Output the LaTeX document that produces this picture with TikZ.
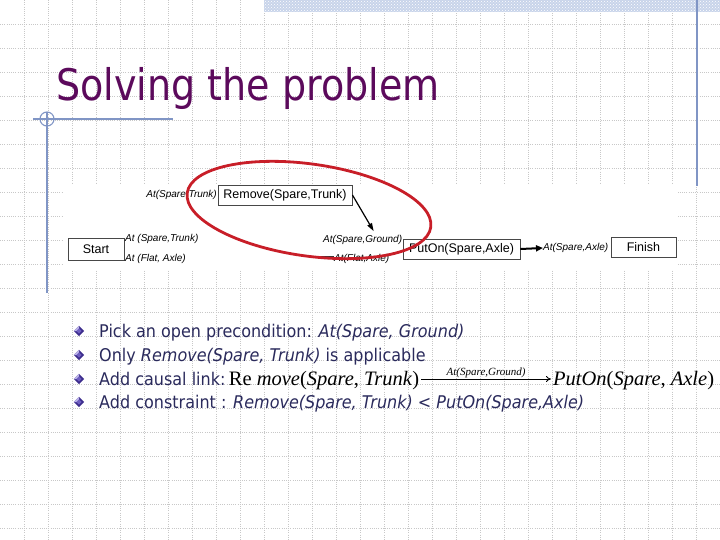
\documentclass[tikz,border=0pt]{standalone}
\usepackage{fontspec}
\setmainfont{Liberation Sans}
\newfontfamily\titlefont[FakeStretch=0.875]{DejaVu Sans}
\newfontfamily\bodyfont[FakeStretch=0.915,ItalicFont={DejaVu Sans Oblique}]{DejaVu Sans}
\newfontfamily\diagfont{Liberation Sans}
\newfontfamily\mathfont{Liberation Serif}
\usetikzlibrary{arrows.meta,patterns,calc}
\definecolor{titlepurple}{HTML}{5C0A5C}
\definecolor{bodyblue}{HTML}{2A2A5C}
\definecolor{lineblue}{HTML}{8095C5}
\definecolor{bandblue}{HTML}{C8D4EA}
\definecolor{gridgray}{HTML}{C8C8C8}
\definecolor{ellred}{HTML}{C81E28}
\definecolor{bulletdark}{HTML}{3C2C8C}
\definecolor{bulletmid}{HTML}{6E5EC0}
\definecolor{bulletlight}{HTML}{C0B8EC}
\tikzset{
  gridline/.style={gridgray, line width=0.6pt, dash pattern=on 1pt off 1.2pt},
  blueline/.style={lineblue, line width=1.1pt},
  box/.style={draw=black!72, line width=0.9pt, fill=white, inner sep=0pt,
    font=\diagfont\fontsize{12.5}{14}\selectfont},
  lab/.style={inner sep=0pt, font=\diagfont\itshape\fontsize{10}{12}\selectfont},
  body/.style={anchor=base west, inner sep=0pt, text=bodyblue,
    font=\bodyfont\fontsize{17.5}{20}\selectfont},
  mathtxt/.style={anchor=base west, inner sep=0pt,
    font=\mathfont\fontsize{20.5}{24}\selectfont},
  diam/.pic={
    \fill[bulletdark] (0,-5.2) -- (5.2,0) -- (0,5.2) -- (-5.2,0) -- cycle;
    \fill[bulletlight] (0,-5.2) -- (-5.2,0) -- (0,0) -- cycle;
    \fill[bulletmid] (0,-2.6) -- (2.6,0) -- (0,2.6) -- (-2.6,0) -- cycle;
  }
}
\begin{document}
\begin{tikzpicture}[x=1pt,y=-1pt]
\useasboundingbox (0,0) rectangle (720,540);
\fill[white] (0,0) rectangle (720,540);
% grid
\foreach \gx in {24,48,...,696} \draw[gridline] (\gx,0) -- (\gx,540);
\foreach \gy in {24,48,...,528} \draw[gridline] (0,\gy) -- (720,\gy);
% top band
\fill[bandblue] (264,0) rectangle (720,12);
\fill[pattern=crosshatch dots, pattern color=white] (264,0) rectangle (720,12);
% decorative lines
\draw[blueline] (697,0) -- (697,186);
\draw[blueline] (33,119) -- (173,119);
\draw[blueline] (47,112) -- (47,293);
\draw[blueline] (47,119) circle [radius=7];
% title
\node[anchor=base west, inner sep=0pt, text=titlepurple,
  font=\titlefont\fontsize{43.5}{50}\selectfont] (title) at (56,101) {Solving the problem};
% diagram area
\fill[white] (63,184) rectangle (678,270);
\node[box, minimum width=56, minimum height=22] (start) at (96,249) {Start};
\node[box, minimum width=134, minimum height=20] (rem) at (285,195) {Remove(Spare,Trunk)};
\node[box, minimum width=117, minimum height=20] (put) at (461.5,249) {PutOn(Spare,Axle)};
\node[box, minimum width=65, minimum height=20] (fin) at (643.5,247) {Finish};
\node[lab, anchor=west] (lst1) at (125,239) {At (Spare,Trunk)};
\node[lab, anchor=west] (lst2) at (125,259) {At (Flat, Axle)};
\node[lab, anchor=east] (lrt) at (217,195) {At(Spare,Trunk)};
\node[lab, anchor=west] (lsg) at (323,240) {At(Spare,Ground)};
\node[lab, anchor=west] (lfa) at (334,259) {At(Flat,Axle)};
\node[lab, anchor=west] (lsa) at (543,248) {At(Spare,Axle)};
\coordinate (fl) at (320,257);
\draw[line width=1.6pt, black!80] (fl) -- (lfa.west |- fl);
\draw[line width=1.2pt, -{Triangle[length=8pt,width=5pt]}] (rem.east) -- ($(lsg.north)+(11,-4)$);
\draw[line width=2pt, -{Triangle[length=7pt,width=6pt]}] (put.east) -- (lsa.west);
% red ellipse
\draw[ellred, line width=2.8pt, rotate around={-8:(309,210)}] (309,210) ellipse [x radius=123, y radius=46];
% bullets
\foreach \by in {331,355,379,402} \pic at (79,\by) {diam};
\node[body] (b1) at (99,337) {Pick an open precondition: \textit{At(Spare, Ground)}};
\node[body] (b2) at (99,361) {Only \textit{Remove(Spare, Trunk)} is applicable};
\node[body] (b3) at (99,385) {Add causal link:};
\node[mathtxt] (m1) at ([xshift=3pt]b3.base east) {Re \textit{move}(\textit{Spare}, \textit{Trunk})};
\node[mathtxt] (m2) at (553,385) {\textit{PutOn}(\textit{Spare}, \textit{Axle})};
\draw[line width=0.8pt, -{To[length=5pt,width=6pt]}] ([xshift=2pt,yshift=6pt]m1.base east) -- ([xshift=-2pt,yshift=6pt]m2.base west)
  node[midway, above=1pt, inner sep=0pt, font=\mathfont\itshape\fontsize{11}{13}\selectfont] (arlab) {At(Spare,Ground)};
\node[body] (b4) at (99,408) {Add constraint : \textit{Remove(Spare, Trunk) < PutOn(Spare,Axle)}};
\end{tikzpicture}
\end{document}
